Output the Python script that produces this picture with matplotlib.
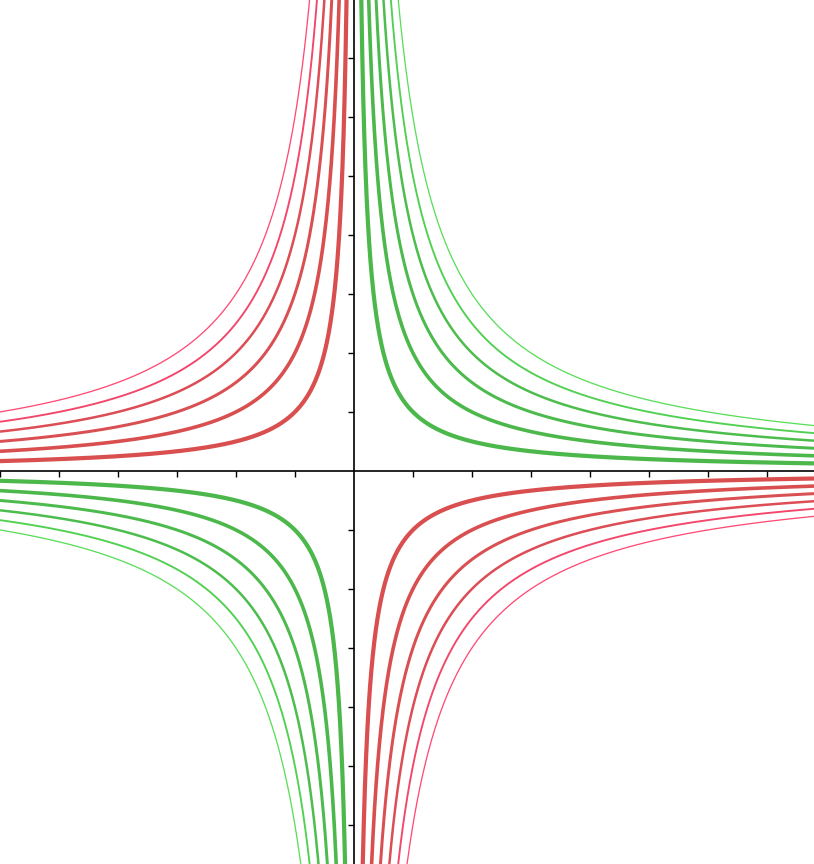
import numpy as np
import matplotlib
matplotlib.use("Agg")
import matplotlib.pyplot as plt

# Data: hyperbola family y = k / x
k_pos = [1, 2, 3, 4, 5, 6]
k_neg = [-1, -2, -3, -4, -5, -6]
green_colors = ['#4cb84c', '#4cb84c', '#4cba4c', '#4dbd4d', '#52d052', '#5ade5a']
red_colors = ['#d94f4f', '#d94f4f', '#d94f52', '#dc4d55', '#f2476a', '#ff4a75']
widths_px = [4.2, 3.6, 3.0, 2.5, 1.9, 1.3]

xmin, xmax = -6.0, 7.8
ymin, ymax = -6.66, 7.98

fig = plt.figure(figsize=(8.14, 8.64), dpi=100)
ax = fig.add_axes([0, 0, 1, 1])

xl = np.linspace(xmin, -0.01, 4000)
xr = np.linspace(0.01, xmax, 4000)

for k, c, w in zip(k_pos, green_colors, widths_px):
    lw = w * 72 / 100
    ax.plot(xr, k / xr, color=c, lw=lw, solid_capstyle='butt')
    ax.plot(xl, k / xl, color=c, lw=lw, solid_capstyle='butt')
for k, c, w in zip(k_neg, red_colors, widths_px):
    lw = w * 72 / 100
    ax.plot(xr, k / xr, color=c, lw=lw, solid_capstyle='butt')
    ax.plot(xl, k / xl, color=c, lw=lw, solid_capstyle='butt')

ax.set_xlim(xmin, xmax)
ax.set_ylim(ymin, ymax)

ax.spines['left'].set_position(('data', 0))
ax.spines['bottom'].set_position(('data', 0))
ax.spines['right'].set_visible(False)
ax.spines['top'].set_visible(False)
for s in ['left', 'bottom']:
    ax.spines[s].set_linewidth(1.2)
    ax.spines[s].set_zorder(0.5)

xt = [t for t in range(-6, 8) if t != 0]
yt = [t for t in range(-6, 8) if t != 0]
ax.set_xticks(xt)
ax.set_yticks(yt)
ax.set_xticklabels([])
ax.set_yticklabels([])
ax.tick_params(direction='out', length=4, width=1)

fig.savefig('out.png', dpi=100)
